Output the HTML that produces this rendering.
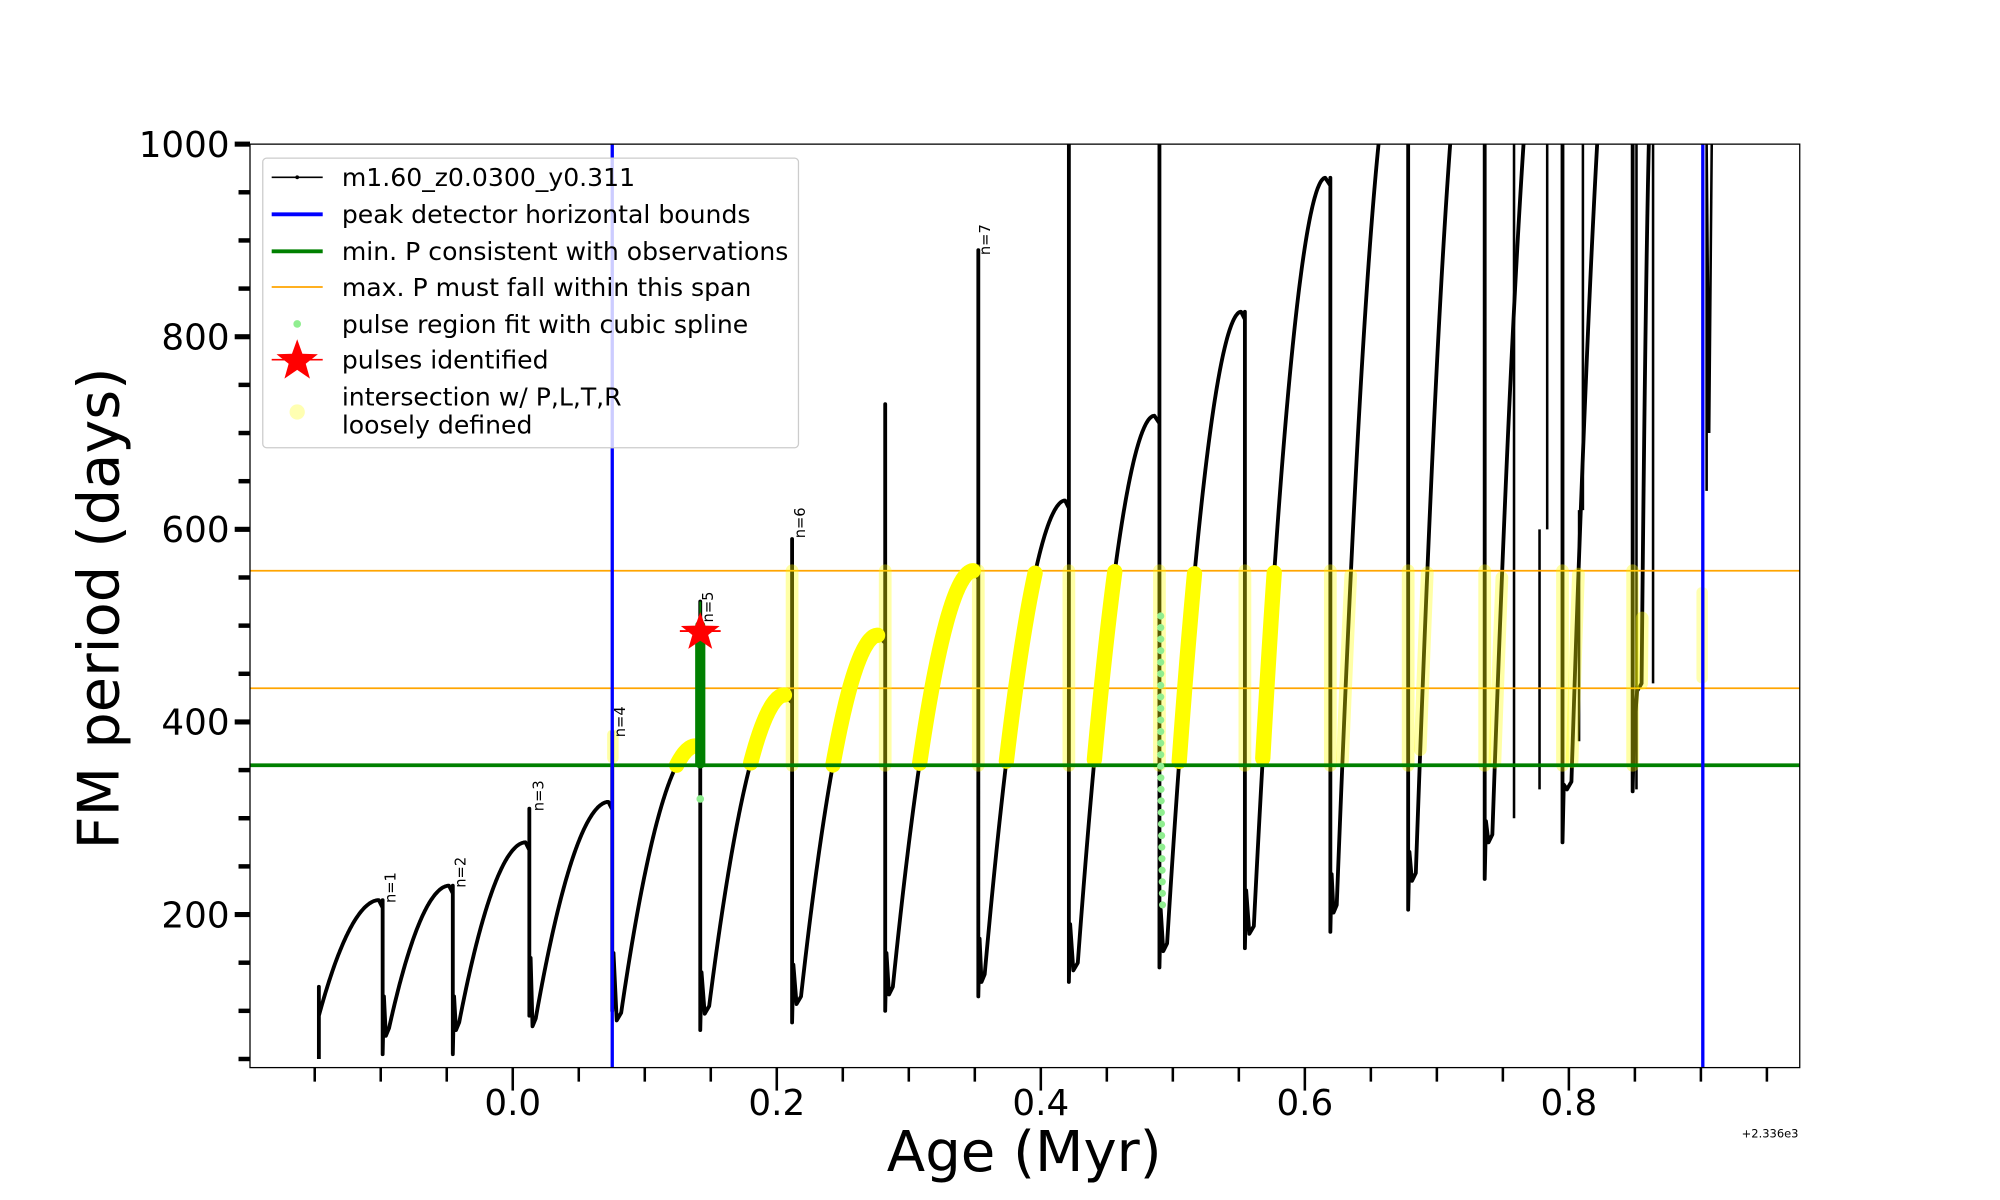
<!DOCTYPE html>
<html><head><meta charset="utf-8"><style>
html,body{margin:0;padding:0;background:#fff;}
svg{display:block;font-family:"DejaVu Sans","Liberation Sans",sans-serif;}
</style></head><body>
<svg id="s" width="2000" height="1200" viewBox="0 0 1568 940.8" preserveAspectRatio="none" xmlns="http://www.w3.org/2000/svg">
<defs><clipPath id="c"><rect x="196" y="113" width="1215" height="724"/></clipPath></defs>
<rect x="0" y="0" width="1568" height="940.8" fill="#fff"/>
<g id="plot" clip-path="url(#c)"></g>
<g id="axes"></g>
</svg>
<script>
var NS="http://www.w3.org/2000/svg";
function Y(P){return 113+(1000-P)*0.755;}
function el(parent,tag,attrs,text){var e=document.createElementNS(NS,tag);for(var k in attrs)e.setAttribute(k,attrs[k]);if(text!==undefined)e.textContent=text;parent.appendChild(e);return e;}
var plot=document.getElementById('plot'),axes=document.getElementById('axes');
var C=[
[250,95,297,215,300,215,55],
[305,82,352,230,355,230,55],
[360,88,412,275,415,310,95],
[420,92,477,317,480,390,100],
[487,98,545,375,549,525,80],
[556,105,615,428,621,590,88],
[628,115,688,490,694,730,100],
[700,125,763,557,767,890,115],
[772,138,835,630,838,1100,130],
[845,150,905,718,909,1100,145],
[915,170,973,826,976,826,165],
[983,188,1039,965,1043,965,182],
[1048,210,1098,1120,1104,1120,205],
[1110,243,1158,1200,1164,1200,237],
[1170,283,1218,1250,1225,1250,275],
[1232,338,1276,1300,1280,1300,328],
[1287,440,1296,1100,1296,1100,440]
];
function f(t){return 1-Math.pow(1-t,1.9);}
var black=[],yb=[],yf=[];
black.push([250,50],[250,125]);
for(var i=0;i<C.length;i++){
 var c=C[i],x0=c[0],ptr=c[1],xp=c[2],pp=c[3],xd=c[4],sp=c[5],mn=c[6];
 var seg=[];
 for(var x=x0;x<=xp;x+=0.5){var t=(x-x0)/(xp-x0);var P=ptr+(pp-ptr)*f(t);seg.push([x,P]);black.push([x,P]);}
 if(i<C.length-1){black.push([xd,pp-8]);black.push([xd,sp]);black.push([xd,mn]);}
 if(i+1<C.length){var nx=C[i+1][0],np=C[i+1][1];black.push([xd+1,mn+60]);black.push([(xd+nx)/2,np-8]);}
 var ys=seg.filter(function(p){return p[1]>=355&&p[1]<=557;});
 if(ys.length>1){ if(i>=4&&i<=11) yb.push(ys); else if(i>=12) yf.push(ys);}
 if(i>=5 && i<16 && sp>355){yf.push([[xd,355],[xd,Math.min(sp,557)]]);}
}
function vline(x,a,b){el(plot,'line',{x1:x,x2:x,y1:Y(a),y2:Y(b),stroke:'#000','stroke-width':2});}
function pts(a){return a.map(function(p){return p[0].toFixed(1)+','+Y(p[1]).toFixed(1);}).join(' ');}
el(plot,'polyline',{points:pts(black),fill:'none',stroke:'#000','stroke-width':3,'stroke-linejoin':'round'});
el(plot,'polyline',{points:pts([[1338,640],[1338,1000],[1340,700],[1342,1000]]),fill:'none',stroke:'#000','stroke-width':2});
vline(1187,300,1000);vline(1207,330,600);vline(1213,600,1000);vline(1238,380,620);vline(1241,620,1000);vline(1283,330,1000);vline(1296,440,1000);
el(plot,'line',{x1:196,x2:1411,y1:Y(435),y2:Y(435),stroke:'#ffa500','stroke-width':1.3});
el(plot,'line',{x1:196,x2:1411,y1:Y(557),y2:Y(557),stroke:'#ffa500','stroke-width':1.3});
yf.forEach(function(s){el(plot,'polyline',{points:pts(s),fill:'none',stroke:'#ffff00','stroke-opacity':0.35,'stroke-width':10,'stroke-linecap':'round'});});
el(plot,'rect',{x:476,y:Y(392),width:9,height:Y(357)-Y(392),fill:'#ffff00','fill-opacity':0.35,rx:4});
el(plot,'rect',{x:1330,y:Y(540),width:9,height:Y(440)-Y(540),fill:'#ffff00','fill-opacity':0.3,rx:4});
yb.forEach(function(s){el(plot,'polyline',{points:pts(s),fill:'none',stroke:'#ffff00','stroke-width':12,'stroke-linecap':'round','stroke-linejoin':'round'});});
el(plot,'line',{x1:196,x2:1411,y1:Y(355),y2:Y(355),stroke:'#008000','stroke-width':3});
el(plot,'line',{x1:549,x2:549,y1:Y(357),y2:Y(500),stroke:'#008000','stroke-width':8,'stroke-linecap':'round'});
el(plot,'line',{x1:549,x2:549,y1:Y(500),y2:Y(525),stroke:'#008000','stroke-width':1.5});
el(plot,'circle',{cx:549,cy:Y(320),r:3,fill:'#90ee90'});
for(var p=210;p<=520;p+=12){el(plot,'circle',{cx:910+(p<355?(355-p)*0.01:0),cy:Y(p),r:2.8,fill:'#90ee90'});}
el(plot,'line',{x1:480,x2:480,y1:113,y2:837,stroke:'#0000ff','stroke-width':2.6});
el(plot,'line',{x1:1335,x2:1335,y1:113,y2:837,stroke:'#0000ff','stroke-width':2.6});
function star(cx,cy,R,r){var s=[];for(var k=0;k<10;k++){var a=-Math.PI/2+k*Math.PI/5,rr=k%2?r:R;s.push((cx+rr*Math.cos(a)).toFixed(1)+','+(cy+rr*Math.sin(a)).toFixed(1));}return s.join(' ');}
el(plot,'polygon',{points:star(549,Y(493),16,6.5),fill:'#ff0000'});
el(plot,'line',{x1:533,x2:565,y1:Y(493)-1,y2:Y(493)-1,stroke:'#ff0000','stroke-width':1.5});
[['n=1',310,708],['n=2',365,696],['n=3',426,636],['n=4',490,578],['n=5',559,488],['n=6',631,422],['n=7',776,200]].forEach(function(l){el(plot,'text',{x:0,y:0,transform:'translate('+l[1]+','+l[2]+') rotate(-90)','font-size':11.5,fill:'#000'},l[0]);});
el(axes,'rect',{x:196,y:113,width:1215,height:724,fill:'none',stroke:'#000','stroke-width':1});
for(var P=50;P<=1000;P+=50){var y=Y(P);var maj=(P%200==0);el(axes,'line',{x1:maj?184:187,x2:196,y1:y,y2:y,stroke:'#000','stroke-width':maj?4:3.5});if(maj)el(axes,'text',{x:180,y:y+10,'text-anchor':'end','font-size':28},String(P));}
for(var k=-3;k<=19;k++){var a=k*0.05;var x=402+1035*a;var maj=(k%4==0);el(axes,'line',{x1:x,x2:x,y1:837,y2:maj?855:848,stroke:'#000','stroke-width':2});if(maj&&a>=0&&a<=0.8)el(axes,'text',{x:x,y:874,'text-anchor':'middle','font-size':28},a.toFixed(1));}
el(axes,'text',{x:1410,y:892,'text-anchor':'end','font-size':9},'+2.336e3');
el(axes,'text',{x:803,y:918,'text-anchor':'middle','font-size':44},'Age (Myr)');
el(axes,'text',{x:0,y:0,transform:'translate(93,477) rotate(-90)','text-anchor':'middle','font-size':45},'FM period (days)');
var lg=el(axes,'g',{});
el(lg,'rect',{x:206,y:124,width:420,height:227,rx:3,fill:'#fff','fill-opacity':0.8,stroke:'#ccc','stroke-width':1});
var ly=[139,168,197,225,254,282];
var labels=['m1.60_z0.0300_y0.311','peak detector horizontal bounds','min. P consistent with observations','max. P must fall within this span','pulse region fit with cubic spline','pulses identified'];
labels.forEach(function(t,i){el(lg,'text',{x:268,y:ly[i]+7,'font-size':19.7},t);});
el(lg,'line',{x1:213,x2:253,y1:139,y2:139,stroke:'#000','stroke-width':1.3});
el(lg,'circle',{cx:233,cy:139,r:1.5,fill:'#000'});
el(lg,'line',{x1:213,x2:253,y1:168,y2:168,stroke:'#0000ff','stroke-width':3});
el(lg,'line',{x1:213,x2:253,y1:197,y2:197,stroke:'#008000','stroke-width':3});
el(lg,'line',{x1:213,x2:253,y1:225,y2:225,stroke:'#ffa500','stroke-width':1.3});
el(lg,'circle',{cx:233,cy:254,r:3,fill:'#90ee90'});
el(lg,'polygon',{points:star(233,283,17,7),fill:'#ff0000'});
el(lg,'line',{x1:213,x2:253,y1:282,y2:282,stroke:'#ff0000','stroke-width':1.3});
el(lg,'circle',{cx:233,cy:323,r:6,fill:'#ffff00','fill-opacity':0.3});
el(lg,'text',{x:268,y:318,'font-size':19.7},'intersection w/ P,L,T,R');
el(lg,'text',{x:268,y:340,'font-size':19.7},'loosely defined');
</script>
</body></html>
